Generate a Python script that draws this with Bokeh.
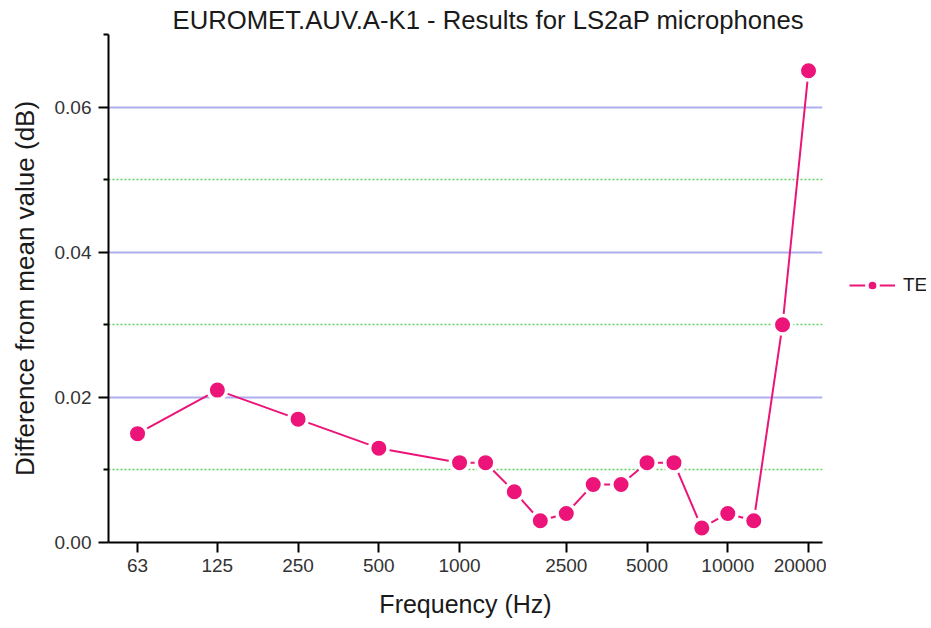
from bokeh.plotting import figure
from bokeh.layouts import row
from bokeh.models import (FixedTicker, PrintfTickFormatter, Grid, Legend, LegendItem,
                          ColumnDataSource, Range1d)
from bokeh.embed import file_html
from bokeh.resources import INLINE

# ---- data ----
frequency = [63, 125, 250, 500, 1000, 1250, 1600, 2000, 2500, 3150, 4000,
             5000, 6300, 8000, 10000, 12500, 16000, 20000]
te_diff = [0.015, 0.021, 0.017, 0.013, 0.011, 0.011, 0.007, 0.003, 0.004, 0.008,
           0.008, 0.011, 0.011, 0.002, 0.004, 0.003, 0.030, 0.065]
x_tick_values = [63, 125, 250, 500, 1000, 2500, 5000, 10000, 20000]
y_major_ticks = [0.0, 0.02, 0.04, 0.06]
y_minor_ticks = [0.01, 0.03, 0.05, 0.07]

title_text = "EUROMET.AUV.A-K1 - Results for LS2aP microphones"
x_label = "Frequency (Hz)"
y_label = "Difference from mean value (dB)"
series_name = "TE"

PINK = "#EC1478"
FONT = "Liberation Sans"

src = ColumnDataSource(dict(f=frequency, d=te_diff))

p = figure(width=826, height=624, x_axis_type="log",
           x_range=Range1d(49.1, 22550), y_range=Range1d(0.0, 0.07),
           output_backend="svg", toolbar_location=None,
           min_border_left=108, min_border_right=4,
           min_border_top=34, min_border_bottom=82)

p.outline_line_color = None
p.background_fill_color = "white"

# title
p.title.text = title_text
p.title.text_font = FONT
p.title.text_font_size = "25.7px"
p.title.text_font_style = "normal"
p.title.text_color = "#1a1a1a"
p.title.align = "left"
p.title.offset = 64
p.title.standoff = 2

# x axis
xa = p.xaxis[0]
xa.ticker = FixedTicker(ticks=x_tick_values, minor_ticks=[])
xa.formatter = PrintfTickFormatter(format="%d")
xa.axis_label = x_label
xa.axis_label_text_font = FONT
xa.axis_label_text_font_size = "25px"
xa.axis_label_text_font_style = "normal"
xa.axis_label_text_color = "#1a1a1a"
xa.axis_label_standoff = 15
xa.major_label_text_font = FONT
xa.major_label_text_font_size = "19px"
xa.major_label_text_color = "#333333"
xa.major_label_standoff = 6
xa.axis_line_width = 2
xa.axis_line_color = "black"
xa.major_tick_line_width = 2
xa.major_tick_line_color = "black"
xa.major_tick_out = 10
xa.major_tick_in = 0

# y axis
ya = p.yaxis[0]
ya.ticker = FixedTicker(ticks=y_major_ticks, minor_ticks=y_minor_ticks)
ya.formatter = PrintfTickFormatter(format="%.2f")
ya.axis_label = y_label
ya.axis_label_text_font = FONT
ya.axis_label_text_font_size = "26px"
ya.axis_label_text_font_style = "normal"
ya.axis_label_text_color = "#1a1a1a"
ya.axis_label_standoff = 12
ya.major_label_text_font = FONT
ya.major_label_text_font_size = "19px"
ya.major_label_text_color = "#333333"
ya.major_label_standoff = 7
ya.axis_line_width = 2
ya.axis_line_color = "black"
ya.major_tick_line_width = 2
ya.major_tick_line_color = "black"
ya.major_tick_out = 10
ya.major_tick_in = 0
ya.minor_tick_line_width = 2
ya.minor_tick_line_color = "black"
ya.minor_tick_out = 5
ya.minor_tick_in = 0

# grids
p.xgrid.visible = False
p.ygrid.ticker = FixedTicker(ticks=[0.02, 0.04, 0.06])
p.ygrid.grid_line_color = "#AEAEEE"
p.ygrid.grid_line_width = 2
minor_grid = Grid(dimension=1, ticker=FixedTicker(ticks=[0.01, 0.03, 0.05]),
                  grid_line_color="#5FD35F", grid_line_width=1.5,
                  grid_line_dash="2 2")
p.add_layout(minor_grid)

# series
line_style = dict(line_color=PINK, line_width=2)
marker_style = dict(size=18.5, fill_color=PINK, line_color="white",
                    line_width=3.5, marker="circle")
p.line("f", "d", source=src, **line_style)
p.scatter("f", "d", source=src, **marker_style)

# legend panel (separate narrow figure to the right of the plot frame)
lf = figure(width=100, height=624, x_range=Range1d(0, 1), y_range=Range1d(0, 1),
            output_backend="svg", toolbar_location=None,
            x_axis_location=None, y_axis_location=None,
            min_border_left=0, min_border_right=0,
            min_border_top=0, min_border_bottom=0)
lf.outline_line_color = None
lf.xgrid.visible = False
lf.ygrid.visible = False
lln = lf.line("f", "d", source=src, **line_style)
lsc = lf.scatter("f", "d", source=src, **marker_style)
legend = Legend(items=[LegendItem(label=series_name, renderers=[lln, lsc])],
                location=(23, 243), margin=0, padding=0,
                glyph_width=46, glyph_height=28, label_standoff=8,
                label_text_font=FONT, label_text_font_size="19px",
                label_text_color="#1a1a1a",
                border_line_color=None, background_fill_alpha=0)
lf.add_layout(legend)

layout = row(p, lf)
open("out.html", "w").write(file_html(layout, INLINE))
